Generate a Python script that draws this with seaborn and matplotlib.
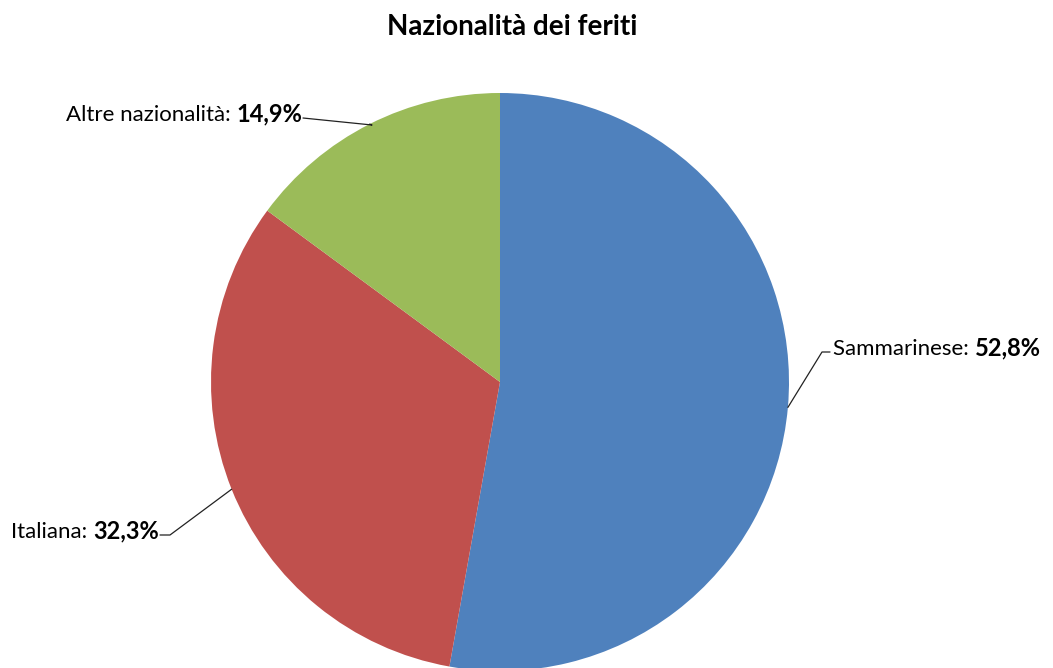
import numpy as np
import matplotlib
matplotlib.use("Agg")
import matplotlib.pyplot as plt
import seaborn as sns

# -------------------------------
# Data
# -------------------------------
nationalities = ["Sammarinese", "Italiana", "Altre nazionalità"]
shares = [52.8, 32.3, 14.9]
share_labels = ["52,8%", "32,3%", "14,9%"]
colors = ["#4F81BD", "#C0504D", "#9BBB59"]

sns.set_theme(style="white")
plt.rcParams["font.family"] = ["Lato", "DejaVu Sans"]

W, H = 1053, 668
fig = plt.figure(figsize=(W / 100, H / 100), dpi=100)
ax = fig.add_axes([0, 0, 1, 1])

cx, cy, r = 500, 286, 289
wedges, _ = ax.pie(shares, colors=colors, startangle=90, counterclock=False,
                   center=(cx, cy), radius=r, wedgeprops=dict(linewidth=0))
ax.set_xlim(0, W)
ax.set_ylim(0, H)
ax.set_aspect("equal")
ax.axis("off")

fig.text(0.486, 1 - 27 / H, "Nazionalità dei feriti", ha="center", va="center",
         fontsize=20, fontweight="bold", color="#000000")

# label anchors (elbow, end of leader) and alignment
anchors = [((822, 316), (830, 316), "left"),
           ((170, 133), (160, 133), "right"),
           ((372, 543), (303, 550), "right")]

renderer = fig.canvas.get_renderer()
inv = ax.transData.inverted()
fs = 16

for w, name, pct, (elbow, end, side) in zip(wedges, nationalities, share_labels, anchors):
    mid = np.deg2rad((w.theta1 + w.theta2) / 2)
    edge = (cx + r * np.cos(mid), cy + r * np.sin(mid))
    ax.plot([edge[0], elbow[0], end[0]], [edge[1], elbow[1], end[1]],
            color="#222222", lw=0.9)
    ty = end[1] - 3
    if side == "left":
        t1 = ax.text(end[0] + 3, ty, name + ": ", ha="left", va="baseline",
                     fontsize=fs, color="#000000")
        bb = t1.get_window_extent(renderer)
        x2 = inv.transform((bb.x1, bb.y0))[0]
        ax.text(x2, ty, pct, ha="left", va="baseline", fontsize=fs + 1,
                fontweight="bold", color="#000000")
    else:
        t2 = ax.text(end[0] - 1, ty, pct, ha="right", va="baseline",
                     fontsize=fs + 1, fontweight="bold", color="#000000")
        bb = t2.get_window_extent(renderer)
        x1 = inv.transform((bb.x0, bb.y0))[0]
        ax.text(x1, ty, name + ": ", ha="right", va="baseline",
                fontsize=fs, color="#000000")

fig.savefig("out.png", dpi=100)
